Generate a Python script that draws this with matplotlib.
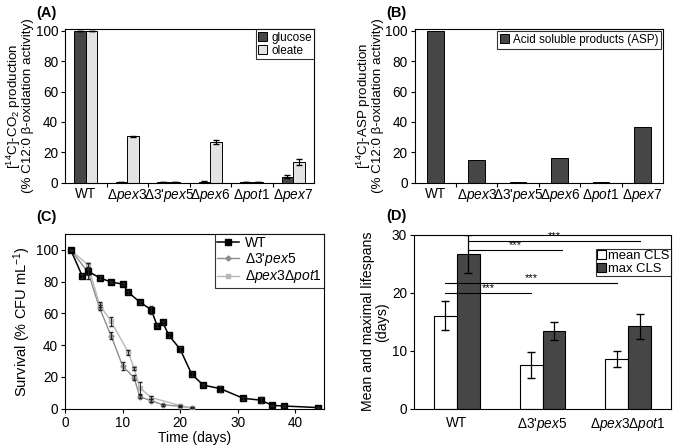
import matplotlib
matplotlib.use("Agg")
import matplotlib.pyplot as plt
import numpy as np

plt.rcParams['font.family'] = ['Liberation Sans', 'DejaVu Sans']
plt.rcParams['mathtext.fontset'] = 'custom'
plt.rcParams['mathtext.rm'] = 'Liberation Sans'
plt.rcParams['mathtext.it'] = 'Liberation Sans:italic'
plt.rcParams['mathtext.bf'] = 'Liberation Sans:bold'
plt.rcParams['axes.linewidth'] = 0.8

# ---------------- data ----------------
strains_ab = ["WT", "Δ$\\mathit{pex3}$", "Δ3'$\\mathit{pex5}$", "Δ$\\mathit{pex6}$",
              "Δ$\\mathit{pot1}$", "Δ$\\mathit{pex7}$"]
co2_glucose = [100, 0.5, 0.5, 0.7, 0.5, 4.0]
co2_glucose_err = [0, 0.2, 0.2, 0.3, 0.2, 1.0]
co2_oleate = [100, 30.5, 0.3, 26.7, 0.3, 13.5]
co2_oleate_err = [0, 0.5, 0.1, 1.5, 0.1, 2.0]

asp = [100, 15.0, 0.3, 16.5, 0.2, 36.7]

wt_days = [1, 3, 4, 6, 8, 10, 11, 13, 15, 16, 17, 18, 20, 22, 24, 27, 31, 34, 36, 38, 44]
wt_surv = [100, 83.5, 86.5, 82.5, 79.7, 78.5, 73.3, 67.1, 62.3, 52.3, 54.4, 46.4, 37.5, 21.8, 14.9, 12.6, 6.5, 5.4, 2.1, 1.7, 0.7]
wt_err = [0, 1.0, 5.0, 0.8, 0.8, 0.8, 1.0, 1.0, 2.5, 1.0, 1.0, 1.0, 1.5, 1.0, 0.8, 2.0, 0.8, 1.8, 0.5, 0.5, 0.3]

pex5_days = [1, 4, 6, 8, 10, 12, 13, 15, 17, 20, 22]
pex5_surv = [100, 86, 63.5, 46, 27, 19.5, 7.5, 5, 2.5, 1.5, 0.5]
pex5_err = [0, 2.0, 1.5, 2.0, 2.5, 1.5, 1.0, 1.0, 0.5, 0.5, 0.3]

pp_days = [1, 4, 6, 8, 11, 12, 13, 15, 20, 22]
pp_surv = [100, 90.5, 65.5, 55, 35.5, 25.5, 13, 7, 2, 0.5]
pp_err = [0, 1.5, 1.5, 3.0, 1.5, 1.0, 3.5, 1.0, 0.5, 0.3]

strains_d = ["WT", "Δ3'$\\mathit{pex5}$", "Δ$\\mathit{pex3}$Δ$\\mathit{pot1}$"]
mean_cls = [16.0, 7.5, 8.6]
mean_cls_err = [2.5, 2.2, 1.4]
max_cls = [26.7, 13.4, 14.2]
max_cls_err = [3.3, 1.6, 2.2]

DARK = '#464646'
LIGHT = '#e3e3e3'
FS = 9.8
PFS = 10.5

fig = plt.figure(figsize=(6.76, 4.48), dpi=100)

def boundary_ticks(ax, n):
    ax.set_xticks(np.arange(n))
    ax.set_xticks(np.arange(0.5, n - 0.5, 1.0), minor=True)
    ax.tick_params(axis='x', which='major', length=0, pad=3)
    ax.tick_params(axis='x', which='minor', length=3, direction='out', width=0.8)
    ax.tick_params(axis='y', length=3, direction='out', width=0.8, pad=2)

# ---------------- (A) ----------------
axA = fig.add_axes([65/676, 1 - 182.7/448, (314 - 65)/676, (182.7 - 29.3)/448])
x = np.arange(len(strains_ab))
bw = 0.28
axA.bar(x - bw/2, co2_glucose, bw, color=DARK, edgecolor='black', linewidth=0.7, label='glucose',
        yerr=co2_glucose_err, error_kw=dict(ecolor='black', elinewidth=0.8, capsize=2))
axA.bar(x + bw/2, co2_oleate, bw, color=LIGHT, edgecolor='black', linewidth=0.7, label='oleate',
        yerr=co2_oleate_err, error_kw=dict(ecolor='black', elinewidth=0.8, capsize=2))
axA.set_xlim(-0.5, 5.5)
axA.set_ylim(0, 101)
axA.set_yticks([0, 20, 40, 60, 80, 100])
boundary_ticks(axA, 6)
axA.set_xticklabels(strains_ab, fontsize=FS)
axA.tick_params(axis='y', labelsize=FS)
axA.set_ylabel("[$^{14}$C]-CO$_2$ production\n(% C12:0 β-oxidation activity)", fontsize=9.6, linespacing=0.92, labelpad=1)
lg = axA.legend(loc='upper right', fontsize=8.5, frameon=True, fancybox=False, edgecolor='black',
                handlelength=0.8, handleheight=0.8, handletextpad=0.3, borderpad=0.2,
                labelspacing=0.1, borderaxespad=0.0)
lg.get_frame().set_linewidth(0.8)
fig.text(36/676, 1 - 12.5/448, "(A)", fontsize=PFS, fontweight='bold', va='center', ha='left')

# ---------------- (B) ----------------
axB = fig.add_axes([414.7/676, 1 - 182.7/448, (663 - 414.7)/676, (182.7 - 29.3)/448])
axB.bar(x, asp, 0.4, color=DARK, edgecolor='black', linewidth=0.7, label='Acid soluble products (ASP)')
axB.set_xlim(-0.5, 5.5)
axB.set_ylim(0, 101)
axB.set_yticks([0, 20, 40, 60, 80, 100])
boundary_ticks(axB, 6)
axB.set_xticklabels(strains_ab, fontsize=FS)
axB.tick_params(axis='y', labelsize=FS)
axB.set_ylabel("[$^{14}$C]-ASP production\n(% C12:0 β-oxidation activity)", fontsize=9.6, linespacing=0.92, labelpad=1)
lg = axB.legend(loc='upper right', fontsize=8.4, frameon=True, fancybox=False, edgecolor='black',
                handlelength=0.8, handleheight=0.8, handletextpad=0.3, borderpad=0.25,
                borderaxespad=0.15)
lg.get_frame().set_linewidth(0.8)
fig.text(386/676, 1 - 12.5/448, "(B)", fontsize=PFS, fontweight='bold', va='center', ha='left')

# ---------------- (C) ----------------
axC = fig.add_axes([65/676, 1 - 408.7/448, (324 - 65)/676, (408.7 - 234)/448])
series_c = [
    (wt_days, wt_surv, wt_err, 'black', 's', 4.2, 1.1, 'WT', 4),
    (pex5_days, pex5_surv, pex5_err, '#8c8c8c', 'D', 2.6, 1.0, "Δ3'$\\mathit{pex5}$", 3),
    (pp_days, pp_surv, pp_err, '#b8b8b8', 's', 3.2, 1.0, "Δ$\\mathit{pex3}$Δ$\\mathit{pot1}$", 3),
]
for d, s, e, c, m, ms, lw, lab, z in series_c:
    axC.errorbar(d, s, yerr=e, fmt='none', ecolor='#222222', elinewidth=0.7, capsize=1.5, zorder=z + 1)
    axC.plot(d, s, color=c, marker=m, markersize=ms, linewidth=lw, label=lab, zorder=z)
axC.set_xlim(0, 45)
axC.set_ylim(0, 110)
axC.set_xticks([0, 10, 20, 30, 40])
axC.set_yticks([0, 20, 40, 60, 80, 100])
axC.tick_params(axis='both', length=3, direction='out', width=0.8, labelsize=FS, pad=2)
axC.set_xlabel("Time (days)", fontsize=10, labelpad=1)
axC.set_ylabel("Survival (% CFU mL$^{-1}$)", fontsize=10.5, labelpad=2)
lg = axC.legend(loc='upper right', fontsize=10, frameon=True, fancybox=False, edgecolor='black',
                handlelength=1.6, handletextpad=0.4, borderpad=0.15, labelspacing=0.05,
                borderaxespad=0.0)
lg.get_frame().set_linewidth(0.8)
fig.text(36/676, 1 - 217/448, "(C)", fontsize=PFS, fontweight='bold', va='center', ha='left')

# ---------------- (D) ----------------
axD = fig.add_axes([414/676, 1 - 408.7/448, (671 - 414)/676, (408.7 - 234.7)/448])
xd = np.arange(len(strains_d))
bwd = 0.265
axD.bar(xd - bwd/2, mean_cls, bwd, color='white', edgecolor='black', linewidth=0.8, label='mean CLS',
        yerr=mean_cls_err, error_kw=dict(ecolor='black', elinewidth=0.9, capsize=3))
axD.bar(xd + bwd/2, max_cls, bwd, color=DARK, edgecolor='black', linewidth=0.8, label='max CLS',
        yerr=max_cls_err, error_kw=dict(ecolor='black', elinewidth=0.9, capsize=3))
axD.set_xlim(-0.5, 2.5)
axD.set_ylim(0, 30)
axD.set_yticks([0, 10, 20, 30])
axD.set_xticks(xd)
axD.set_xticklabels(strains_d, fontsize=FS)
axD.tick_params(axis='x', length=0, pad=5)
axD.tick_params(axis='y', length=3, direction='out', width=0.8, labelsize=FS, pad=2)
axD.set_ylabel("Mean and maximal lifespans\n(days)", fontsize=10.2, linespacing=1.0, labelpad=2)
# significance lines
sig = [(0 + bwd/2, 2 + bwd/2, 28.9), (0 + bwd/2, 1 + bwd/2 + 0.1, 27.4),
       (0 - bwd/2, 2 - bwd/2, 21.7), (0 - bwd/2, 1 - bwd/2, 20.0)]
for x0, x1, yv in sig:
    axD.plot([x0, x1], [yv, yv], color='black', linewidth=0.8, zorder=1)
    axD.text((x0 + x1) / 2, yv + 0.02, "***", ha='center', va='bottom', fontsize=8)
lg = axD.legend(loc='upper right', fontsize=9.4, frameon=True, fancybox=False, edgecolor='black',
                handlelength=0.7, handleheight=0.7, handletextpad=0.15, borderpad=0.1,
                labelspacing=0.05, borderaxespad=0.0, bbox_to_anchor=(1.0, 0.92))
lg.get_frame().set_linewidth(0.8)
fig.text(386/676, 1 - 216/448, "(D)", fontsize=PFS, fontweight='bold', va='center', ha='left')

fig.savefig("out.png", dpi=100)
